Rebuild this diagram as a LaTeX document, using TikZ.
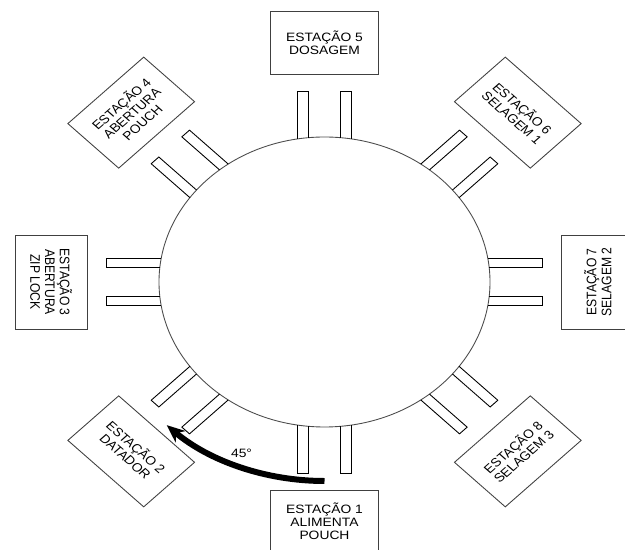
\documentclass[tikz,border=0pt]{standalone}
\usepackage{fontspec}
\setmainfont{Liberation Sans}
\usepackage{tikz}
\usetikzlibrary{arrows.meta, positioning}

\tikzset{
  station/.style={draw=black!75, line width=0.5pt, minimum width=1.88cm, minimum height=1.26cm,
    align=center, inner sep=1pt, font=\fontsize{6.9}{7.4}\selectfont, transform shape},
  tab/.style={draw=black, line width=0.5pt},
  disc/.style={draw=black!70, line width=0.5pt},
}

\begin{document}
\begin{tikzpicture}[x=0.02cm, y=0.02cm]
  \useasboundingbox (0,0) rectangle (625,550);
  \begin{scope}[shift={(324.5,268)}, xscale=1.1414]
    % 转盘
    \draw[disc] (0,0) circle (145);

    % 夹具
    \foreach \a in {0,45,...,315} {
      \begin{scope}[rotate=\a]
        \draw[tab] (143.0,-23.75) -- (191,-23.75) -- (191,-14.25) -- (144.3,-14.25);
        \draw[tab] (143.0,23.75) -- (191,23.75) -- (191,14.25) -- (144.3,14.25);
      \end{scope}
    }

    % 工位
    \node[station] (st5) at (90:239.5) {ESTAÇÃO 5\\DOSAGEM};
    \node[station, rotate=-45] (st6) at (45:239.5) {ESTAÇÃO 6\\SELAGEM 1};
    \node[station, rotate=90] (st7) at (0:239.5) {ESTAÇÃO 7\\SELAGEM 2};
    \node[station, rotate=45] (st8) at (-45:239.5) {ESTAÇÃO 8\\SELAGEM 3};
    \node[station] (st1) at (-90:239.5) {ESTAÇÃO 1\\ALIMENTA\\POUCH};
    \node[station, rotate=-45] (st2) at (-135:239.5) {ESTAÇÃO 2\\DATADOR};
    \node[station, rotate=-90] (st3) at (180:239.5) {ESTAÇÃO 3\\ABERTURA\\ZIP LOCK};
    \node[station, rotate=45] (st4) at (135:239.5) {ESTAÇÃO 4\\ABERTURA\\POUCH};

    % 旋转方向
    \coordinate (arrtail) at (270:199);
    \draw[line width=3.4pt, -{Stealth[length=0.36cm, width=0.3cm]}]
      (arrtail) arc[start angle=270, end angle=226, radius=199];
    \node[font=\fontsize{6.9}{7.4}\selectfont, transform shape] (ang) at (247:186) {45°};
  \end{scope}
\end{tikzpicture}
\end{document}
